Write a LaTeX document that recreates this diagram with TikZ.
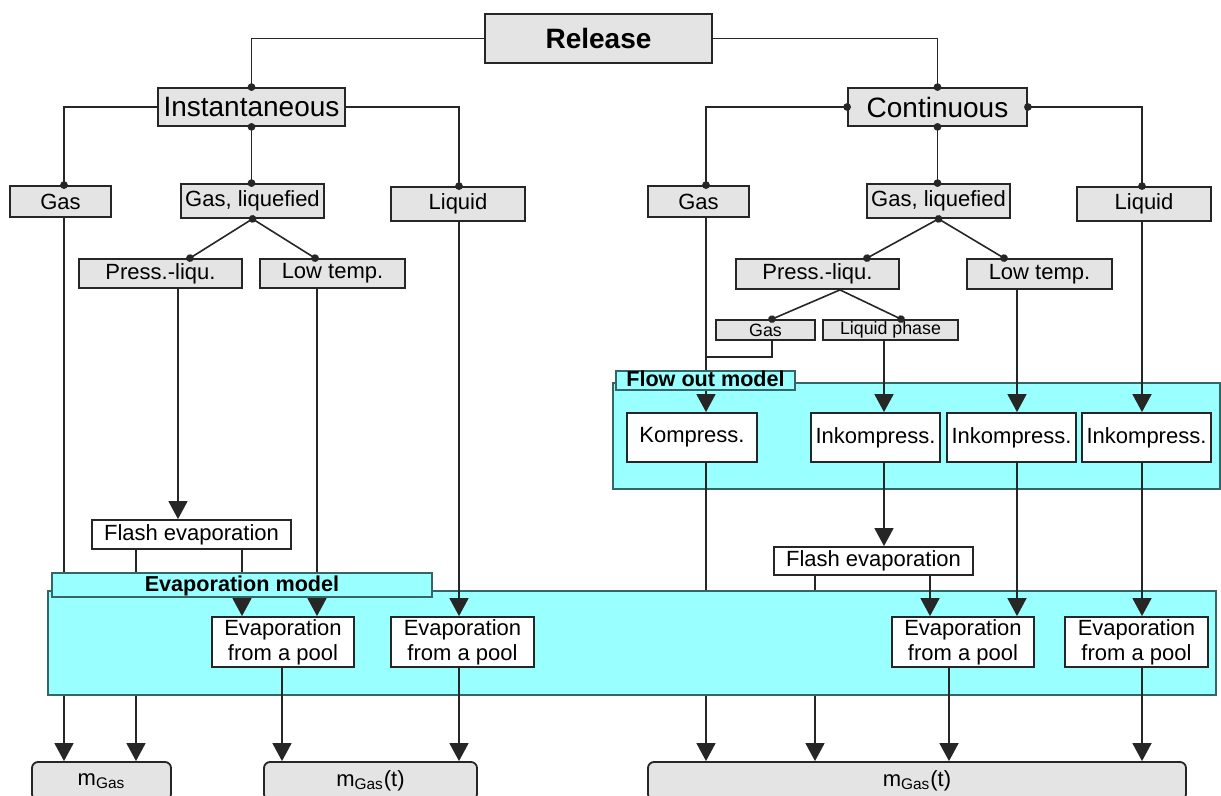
\documentclass[tikz,border=0pt]{standalone}
\usepackage{fontspec}
\setmainfont{Liberation Sans}
\usetikzlibrary{arrows.meta}

\definecolor{boxgray}{HTML}{E4E4E4}
\definecolor{edgegray}{HTML}{262626}
\definecolor{panelcyan}{HTML}{99FFFF}
\definecolor{panelline}{HTML}{356565}

\pgfdeclarelayer{flowback}
\pgfdeclarelayer{under}
\pgfdeclarelayer{evapback}
\pgfsetlayers{flowback,under,evapback,main}

\tikzset{
  gbox/.style={draw=edgegray, line width=0.9pt, fill=boxgray, inner sep=0pt,
    minimum height=17pt, font=\fontsize{11}{12.5}\selectfont},
  wbox/.style={gbox, fill=white},
  topbox/.style={gbox, minimum height=19pt, font=\fontsize{14}{16}\selectfont},
  tinybox/.style={gbox, minimum height=10pt, font=\fontsize{8.9}{10}\selectfont},
  panelbox/.style={draw=panelline, line width=0.9pt, fill=panelcyan},
  panellabel/.style={panelbox, inner sep=0pt, text height=7.6pt, text depth=1.6pt,
    font=\bfseries\fontsize{10.8}{12}\selectfont},
  plainlink/.style={draw=edgegray, line width=0.8pt},
  dotlink/.style={plainlink, -{Circle[length=3.8pt]}, shorten >=-1.9pt},
  dotdot/.style={dotlink, {Circle[length=3.8pt]}-{Circle[length=3.8pt]}, shorten <=-1.9pt},
  arrowlink/.style={plainlink, -{Triangle[width=9.5pt,length=9pt]}},
}

\begin{document}
\begin{tikzpicture}[x=0.5pt, y=-0.5pt]
\useasboundingbox (0,0) rectangle (1221,796);
\clip (0,0) rectangle (1221,796);

% columns of the vertical lines
\coordinate (xa) at (64,0);
\coordinate (xb) at (136,0);
\coordinate (xc) at (178,0);
\coordinate (xd) at (242,0);
\coordinate (xe) at (317,0);
\coordinate (xf) at (282,0);
\coordinate (xg) at (459,0);
\coordinate (xh) at (706,0);
\coordinate (xi) at (884,0);
\coordinate (xj) at (815,0);
\coordinate (xk) at (930,0);
\coordinate (xl) at (1017,0);
\coordinate (xm) at (949,0);
\coordinate (xn) at (1142,0);
\coordinate (pl) at (190,0);
\coordinate (ll) at (315,0);
\coordinate (pr) at (867,0);
\coordinate (lr) at (1004,0);
\coordinate (ps) at (840,0);
\coordinate (sg) at (772,0);
\coordinate (sl) at (901,0);
\coordinate (gjoin) at (706,357);

% tree
\node[topbox, font=\bfseries\fontsize{14}{16}\selectfont, minimum width=113.5pt, minimum height=24.5pt] (release) at (598.5,38.5) {Release};
\node[topbox, minimum width=93.5pt] (inst) at (251.5,107) {Instantaneous};
\node[topbox, minimum width=89.5pt] (cont) at (937.5,107) {Continuous};

\node[gbox, minimum width=50.5pt, minimum height=15.5pt] (gasL) at (60.5,201.5) {Gas};
\node[gbox, minimum width=71.5pt] (liqgasL) at (252.5,201) {Gas, liquefied};
\node[gbox, minimum width=67pt] (liqL) at (458,204) {Liquid};
\node[gbox, minimum width=50.5pt, minimum height=15.5pt] (gasR) at (698.5,201.5) {Gas};
\node[gbox, minimum width=71.5pt] (liqgasR) at (938.5,201) {Gas, liquefied};
\node[gbox, minimum width=67pt] (liqR) at (1144,204) {Liquid};

\node[gbox, minimum width=81.5pt, minimum height=14.5pt] (pressL) at (160.5,273.5) {Press.-liqu.};
\node[gbox, minimum width=72.5pt, minimum height=14.5pt] (lowL) at (332.5,273.5) {Low temp.};
\node[gbox, minimum width=81.5pt, minimum height=15pt] (pressR) at (817.5,274) {Press.-liqu.};
\node[gbox, minimum width=72.5pt, minimum height=15pt] (lowR) at (1039.5,274) {Low temp.};
\node[tinybox, minimum width=49.5pt] (sgas) at (765.5,330) {Gas};
\node[tinybox, minimum width=67.5pt] (sliq) at (890.5,330) {Liquid phase};

% flow out model
\node[wbox, minimum width=65pt, minimum height=24.5pt] (kompr) at (692,437.5) {Kompress.};
\node[wbox, minimum width=64.5pt, minimum height=24.5pt] (inkA) at (875.5,437.5) {Inkompress.};
\node[wbox, minimum width=64.5pt, minimum height=24.5pt] (inkB) at (1011.5,437.5) {Inkompress.};
\node[wbox, minimum width=64.5pt, minimum height=24.5pt] (inkC) at (1146.5,437.5) {Inkompress.};

\node[wbox, minimum width=99.5pt, minimum height=14.5pt] (flashL) at (191.5,534.5) {Flash evaporation};
\node[wbox, minimum width=99.5pt, minimum height=14pt] (flashR) at (873.5,561) {Flash evaporation};

% evaporation model
\node[wbox, align=center, minimum width=71.25pt, minimum height=25pt] (poolA) at (283,642) {Evaporation\\from a pool};
\node[wbox, align=center, minimum width=71.25pt, minimum height=25pt] (poolB) at (462.5,642) {Evaporation\\from a pool};
\node[wbox, align=center, minimum width=71.25pt, minimum height=25pt] (poolC) at (963,642) {Evaporation\\from a pool};
\node[wbox, align=center, minimum width=71.25pt, minimum height=25pt] (poolD) at (1136.5,642) {Evaporation\\from a pool};

\node[gbox, rounded corners=3pt, minimum width=69.5pt, minimum height=19pt] (mgas) at (101.5,781) {m\textsubscript{Gas}};
\node[gbox, rounded corners=3pt, minimum width=106.5pt, minimum height=19pt] (mgast) at (370.5,781) {m\textsubscript{Gas}(t)};
\node[gbox, rounded corners=3pt, minimum width=269pt, minimum height=19pt] (mgastR) at (917,781) {m\textsubscript{Gas}(t)};

% panels
\begin{pgfonlayer}{flowback}
\draw[panelbox] (613,383) rectangle (1220,489);
\end{pgfonlayer}
\begin{pgfonlayer}{evapback}
\draw[panelbox] (48,591) rectangle (1216,695);
\end{pgfonlayer}

% tree links
\draw[dotlink] (release.west) -| (inst.north);
\draw[dotlink] (release.east) -| (cont.north);
\draw[dotlink] (inst.west) -| (gasL.north -| xa);
\draw[dotlink] (inst.east) -| (liqL.north -| xg);
\draw[dotdot] (inst.south) -- (inst.south |- liqgasL.north);
\draw[dotdot] (cont.west) -| (gasR.north -| xh);
\draw[dotdot] (cont.east) -| (liqR.north -| xn);
\draw[dotdot] (cont.south) -- (cont.south |- liqgasR.north);
\draw[dotdot] (liqgasL.south) -- (pressL.north -| pl);
\draw[dotlink] (liqgasL.south) -- (lowL.north -| ll);
\draw[dotdot] (liqgasR.south) -- (pressR.north -| pr);
\draw[dotlink] (liqgasR.south) -- (lowR.north -| lr);
\draw[dotlink] (pressR.south -| ps) -- (sgas.north -| sg);
\draw[dotlink] (pressR.south -| ps) -- (sliq.north -| sl);

% lines hidden by the evaporation panel
\begin{pgfonlayer}{under}
\draw[arrowlink] (gasL.south -| xa) -- (mgas.north -| xa);
\draw[arrowlink] (flashL.south -| xb) -- (mgas.north -| xb);
\draw[arrowlink] (kompr.south -| xh) -- (mgastR.north -| xh);
\draw[arrowlink] (flashR.south -| xj) -- (mgastR.north -| xj);
\end{pgfonlayer}

% left side
\draw[arrowlink] (pressL.south -| xc) -- (flashL.north -| xc);
\draw[arrowlink] (flashL.south -| xd) -- (poolA.north -| xd);
\draw[arrowlink] (lowL.south -| xe) -- (poolA.north -| xe);
\draw[arrowlink] (liqL.south -| xg) -- (poolB.north -| xg);
\draw[arrowlink] (poolA.south -| xf) -- (mgast.north -| xf);
\draw[arrowlink] (poolB.south -| xg) -- (mgast.north -| xg);

% right side
\draw[arrowlink] (gasR.south -| xh) -- (kompr.north -| xh);
\draw[plainlink] (sgas.south -| sg) |- (gjoin);
\draw[arrowlink] (sliq.south -| xi) -- (inkA.north -| xi);
\draw[arrowlink] (lowR.south -| xl) -- (inkB.north -| xl);
\draw[arrowlink] (liqR.south -| xn) -- (inkC.north -| xn);
\draw[arrowlink] (inkA.south -| xi) -- (flashR.north -| xi);
\draw[arrowlink] (flashR.south -| xk) -- (poolC.north -| xk);
\draw[arrowlink] (inkB.south -| xl) -- (poolC.north -| xl);
\draw[arrowlink] (inkC.south -| xn) -- (poolD.north -| xn);
\draw[arrowlink] (poolC.south -| xm) -- (mgastR.north -| xm);
\draw[arrowlink] (poolD.south -| xn) -- (mgastR.north -| xn);

% panel labels
\node[panellabel, minimum width=89.5pt, minimum height=9.5pt] (flowtag) at (705.5,380.5) {Flow out model};
\node[panellabel, minimum width=190pt, minimum height=12pt] (evaptag) at (242,585) {Evaporation model};
\end{tikzpicture}
\end{document}
